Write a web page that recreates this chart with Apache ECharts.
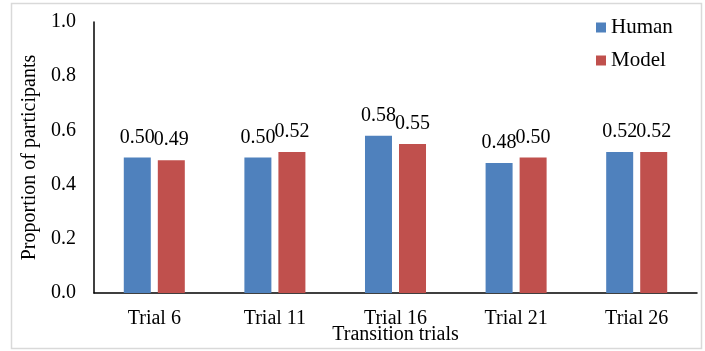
<!DOCTYPE html>
<html><head><meta charset="utf-8">
<script src="https://cdn.jsdelivr.net/npm/echarts@6/dist/echarts.min.js"></script>
<style>html,body{margin:0;padding:0;background:#fff}#c{width:705px;height:351px}</style>
</head><body><div id="c"></div>
<script>
const categories = ['Trial 6','Trial 11','Trial 16','Trial 21','Trial 26'];
const human = [0.50,0.50,0.58,0.48,0.52];
const model = [0.49,0.52,0.55,0.50,0.52];
const yTicks = [0,0.2,0.4,0.6,0.8,1.0];
const F = '"Liberation Serif","Times New Roman",serif';
const chart = echarts.init(document.getElementById('c'));
const lbl = {show:true,position:'top',distance:10,fontFamily:F,fontSize:20,color:'#000',formatter:p=>p.value.toFixed(2)};
chart.setOption({
  animation:false,
  graphic:[{type:'rect',shape:{x:11.5,y:3.5,width:690,height:345},style:{fill:'none',stroke:'#d9d9d9',lineWidth:1.5}}],
  legend:{orient:'vertical',left:591,top:12,itemWidth:10,itemHeight:10,itemGap:12,icon:'rect',
    textStyle:{fontFamily:F,fontSize:21,color:'#000'},data:['Human','Model']},
  grid:{left:94,right:8,top:22,bottom:58,containLabel:false,outerBoundsMode:'none'},
  xAxis:{type:'category',data:categories,name:'Transition trials',nameLocation:'middle',nameGap:32,nameMoveOverlap:false,
    nameTextStyle:{fontFamily:F,fontSize:20,color:'#000'},
    axisLine:{lineStyle:{color:'#000',width:1.5}},axisTick:{show:false},
    axisLabel:{fontFamily:F,fontSize:20,color:'#000',margin:16}},
  yAxis:{type:'value',min:0,max:1,interval:0.2,name:'Proportion of participants',nameLocation:'middle',nameGap:54,nameMoveOverlap:false,
    nameTextStyle:{fontFamily:F,fontSize:20,color:'#000'},
    axisLine:{show:true,lineStyle:{color:'#000',width:1.5}},axisTick:{show:false},splitLine:{show:false},
    axisLabel:{fontFamily:F,fontSize:20,color:'#000',margin:18,formatter:v=>v.toFixed(1)}},
  series:[
    {name:'Human',type:'bar',data:human,barWidth:27,barGap:'26%',itemStyle:{color:'#4F81BD'},label:lbl},
    {name:'Model',type:'bar',data:model,barWidth:27,barGap:'26%',itemStyle:{color:'#C0504D'},label:lbl}
  ]
});
</script></body></html>
